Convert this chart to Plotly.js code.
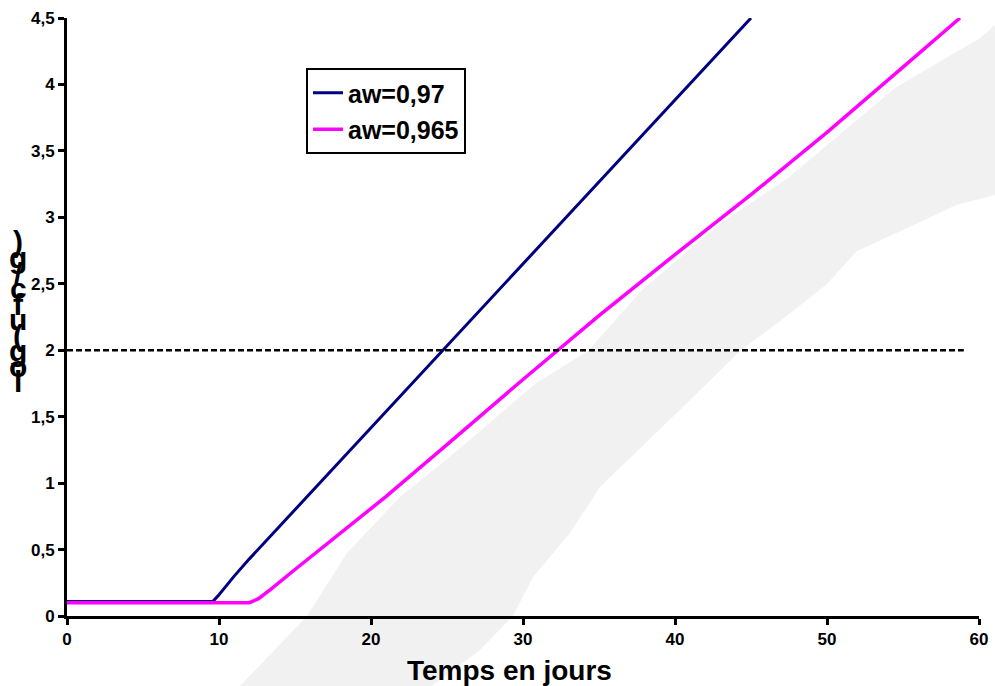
<!DOCTYPE html>
<html>
<head>
<meta charset="utf-8">
<script src="https://cdn.plot.ly/plotly-3.0.1.min.js"></script>
<style>html,body{margin:0;padding:0;background:#fff;}#chart{width:995px;height:686px;}</style>
</head>
<body>
<div id="chart"></div>
<script>
// ---- data ----
const seriesNames = ["aw=0,97", "aw=0,965"];
const daysA = [0, 2, 4, 6, 8, 9.6, 10, 11, 12, 15, 20, 25, 30, 35, 40, 45];
const logA  = [0.11, 0.11, 0.11, 0.11, 0.11, 0.11, 0.16, 0.30, 0.43, 0.80, 1.42, 2.04, 2.65, 3.27, 3.89, 4.50];
const daysB = [0, 2, 4, 6, 8, 10, 12, 12.6, 13.4, 15, 21, 25, 30, 35, 40, 45, 50, 55, 58.75];
const logB  = [0.10, 0.10, 0.10, 0.10, 0.10, 0.10, 0.10, 0.13, 0.20, 0.35, 0.90, 1.29, 1.78, 2.26, 2.72, 3.17, 3.64, 4.13, 4.50];
const limitX = [0, 59];
const limitY = [2, 2];
const xTicks = [0, 10, 20, 30, 40, 50, 60];
const yTicks = [0, 0.5, 1, 1.5, 2, 2.5, 3, 3.5, 4, 4.5];
const xTitle = "Temps en jours";
const yTitleChars = [")", "g", "/", "c", "f", "u", "(", "g", "o", "l"];

// ---- layout helpers ----
const W = 995, H = 686;
const L = 67, R = 979, T = 18, B = 616;
const px = x => (x - L) / (R - L);
const py = y => (B - y) / (B - T);

const font = "Arial, 'Liberation Sans', sans-serif";

const traces = [
  {x: daysA, y: logA, name: seriesNames[0], mode: "lines", legendgroup: "a",
   line: {color: "#000080", width: 3}},
  {x: daysB, y: logB, name: seriesNames[1], mode: "lines", legendgroup: "b",
   line: {color: "#FF00FF", width: 3.5}},
  {x: limitX, y: limitY, mode: "lines", showlegend: false, hoverinfo: "skip",
   line: {color: "#000000", width: 2.5, dash: "6px,3px"}}
];

// light grey background blotch (decoration, in pixel positions)
const blotch = [[240,686],[307,616],[347,553],[400,497],[458,450],[536,383],[588,351],[642,290],
                [718,225],[788,178],[895,88],[980,38],[995,25],
                [995,195],[956,205],[929,218],[857,251],[826,285],[784,318],[740,351],[683,407],
                [600,487],[570,533],[533,577],[513,616],[480,650],[432,686]];
const path = blotch.map((p,i) => (i ? "L" : "M") + px(p[0]).toFixed(4) + "," + py(p[1]).toFixed(4)).join(" ") + " Z";

const annotations = yTitleChars.map((c, i) => ({
  text: "<b>" + c + "</b>", xref: "paper", yref: "paper",
  x: px(18), y: py(242 + i * 15.5), xanchor: "center", yanchor: "middle",
  showarrow: false, font: {family: font, size: 30, color: "#000"}
}));
annotations.push({
  text: "<b>" + xTitle + "</b>", xref: "paper", yref: "paper",
  x: px(509), y: py(670), xanchor: "center", yanchor: "middle",
  showarrow: false, font: {family: font, size: 28, color: "#000"}
});

const layout = {
  width: W, height: H,
  margin: {l: L, r: W - R, t: T, b: H - B},
  paper_bgcolor: "#ffffff", plot_bgcolor: "rgba(0,0,0,0)",
  separators: ",.",
  showlegend: true,
  legend: {x: px(306), y: py(68), xanchor: "left", yanchor: "top",
           bgcolor: "#ffffff", bordercolor: "#000000", borderwidth: 2,
           font: {family: font, size: 25, color: "#000", weight: "bold"},
           tracegroupgap: 1, itemwidth: 30},
  xaxis: {range: [0, 60], tickvals: xTicks, ticktext: xTicks.map(String),
          showgrid: false, zeroline: false, showline: true, linecolor: "#000", linewidth: 3,
          ticks: "outside", ticklen: 6, tickwidth: 3, tickcolor: "#000",
          tickfont: {family: font, size: 17, color: "#000", weight: "bold"}},
  yaxis: {range: [0, 4.5], tickvals: yTicks,
          showgrid: false, zeroline: false, showline: true, linecolor: "#000", linewidth: 3,
          ticks: "outside", ticklen: 6, tickwidth: 3, tickcolor: "#000",
          tickfont: {family: font, size: 17, color: "#000", weight: "bold"}},
  shapes: [{type: "path", xref: "paper", yref: "paper", path: path, layer: "below",
            fillcolor: "#f1f1f1", line: {width: 0}}],
  annotations: annotations
};

Plotly.newPlot("chart", traces, layout, {displayModeBar: false, staticPlot: true});
</script>
</body>
</html>
